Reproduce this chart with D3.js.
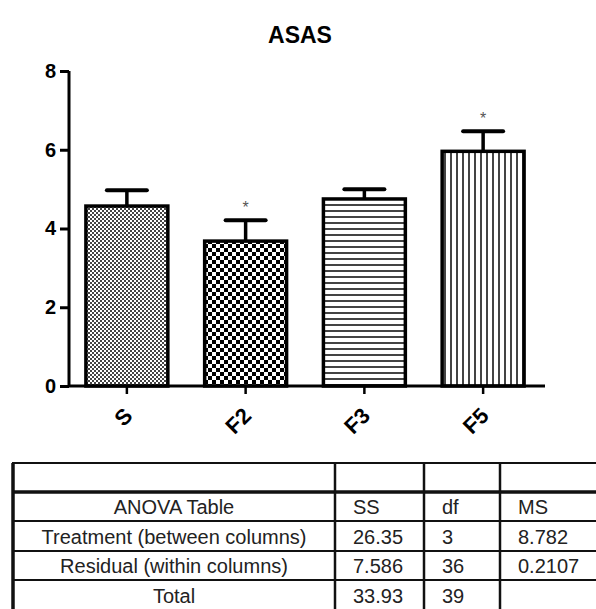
<!DOCTYPE html>
<html><head><meta charset="utf-8">
<script src="https://cdn.jsdelivr.net/npm/d3@7"></script>
<style>html,body{margin:0;padding:0;background:#fff;}svg{display:block;}</style>
</head><body>
<svg id="c" width="596" height="609"></svg>
<script>
const categories = ["S", "F2", "F3", "F5"];
const means = [4.57, 3.68, 4.75, 5.96];
const errors = [0.40, 0.53, 0.25, 0.51];
const significant = [false, true, false, true];
const patternIds = ["pS", "pF2", "pF3", "pF5"];
const yTicks = [0, 2, 4, 6, 8];
const tableHeader = ["ANOVA Table", "SS", "df", "MS"];
const tableRows = [
  ["Treatment (between columns)", "26.35", "3", "8.782"],
  ["Residual (within columns)", "7.586", "36", "0.2107"],
  ["Total", "33.93", "39", ""]
];

const svg = d3.select("#c");
const defs = svg.append("defs");
// S: fine grey checker
let p = defs.append("pattern").attr("id","pS").attr("patternUnits","userSpaceOnUse").attr("width",4).attr("height",4);
p.append("rect").attr("width",4).attr("height",4).attr("fill","#fff");
p.append("rect").attr("width",2).attr("height",2).attr("fill","#444");
p.append("rect").attr("x",2).attr("y",2).attr("width",2).attr("height",2).attr("fill","#444");
// F2: coarse checker
p = defs.append("pattern").attr("id","pF2").attr("patternUnits","userSpaceOnUse").attr("width",8).attr("height",8);
p.append("rect").attr("width",8).attr("height",8).attr("fill","#fff");
p.append("rect").attr("width",4).attr("height",4).attr("fill","#000");
p.append("rect").attr("x",4).attr("y",4).attr("width",4).attr("height",4).attr("fill","#000");
// F3: horizontal lines
p = defs.append("pattern").attr("id","pF3").attr("patternUnits","userSpaceOnUse").attr("width",6).attr("height",6);
p.append("rect").attr("width",6).attr("height",6).attr("fill","#fff");
p.append("rect").attr("y",0).attr("width",6).attr("height",2).attr("fill","#444");
// F5: vertical lines
p = defs.append("pattern").attr("id","pF5").attr("patternUnits","userSpaceOnUse").attr("width",6).attr("height",6);
p.append("rect").attr("width",6).attr("height",6).attr("fill","#fff");
p.append("rect").attr("x",0).attr("width",2).attr("height",6).attr("fill","#444");

const y = d3.scaleLinear().domain([0, 8]).range([386, 71]);
const x = d3.scaleBand().domain(categories).range([67.5, 542.5]).paddingInner(0.31).paddingOuter(0.155);
const axisX0 = 69;
const font = "Liberation Sans, Arial, sans-serif";

// title
svg.append("text").attr("x", 300).attr("y", 43).attr("text-anchor","middle")
  .attr("font-family",font).attr("font-weight","bold").attr("font-size",23).text("ASAS");

// bars
const g = svg.append("g");
g.selectAll("rect.bar").data(categories).join("rect").attr("class","bar")
  .attr("x", d => x(d)).attr("width", x.bandwidth())
  .attr("y", (d,i) => y(means[i])).attr("height", (d,i) => y(0) - y(means[i]))
  .attr("fill", (d,i) => `url(#${patternIds[i]})`).attr("stroke","#000").attr("stroke-width",3.5);

// error bars
const cx = d => x(d) + x.bandwidth()/2;
g.selectAll("line.err").data(categories).join("line")
  .attr("x1", cx).attr("x2", cx)
  .attr("y1", (d,i) => y(means[i])).attr("y2", (d,i) => y(means[i] + errors[i]))
  .attr("stroke","#000").attr("stroke-width",3.5);
g.selectAll("line.cap").data(categories).join("line")
  .attr("x1", d => cx(d) - 20).attr("x2", d => cx(d) + 20)
  .attr("y1", (d,i) => y(means[i] + errors[i])).attr("y2", (d,i) => y(means[i] + errors[i]))
  .attr("stroke","#000").attr("stroke-width",4).attr("stroke-linecap","round");
g.selectAll("text.star").data(categories.filter((d,i)=>significant[i])).join("text")
  .attr("x", cx).attr("y", d => { const i = categories.indexOf(d); return y(means[i] + errors[i]) - 7; })
  .attr("text-anchor","middle").attr("font-family",font)
  .attr("font-size",16).attr("fill","#555").text("*");

// y axis
const yAxis = svg.append("g").attr("transform", `translate(${axisX0},0)`)
  .call(d3.axisLeft(y).tickValues(yTicks).tickSize(9).tickPadding(4).tickFormat(d3.format("d")));
yAxis.select(".domain").attr("stroke","#000").attr("stroke-width",3).attr("d", `M0,${y(8)}V${y(0)}`);
yAxis.selectAll(".tick line").attr("stroke","#000").attr("stroke-width",3);
yAxis.selectAll(".tick text").attr("font-family",font)
  .attr("font-weight","bold").attr("font-size",20).attr("fill","#000");

// x axis
const xAxis = svg.append("g").attr("transform", `translate(0,${y(0)})`)
  .call(d3.axisBottom(x).tickSize(8).tickFormat(""));
xAxis.select(".domain").attr("stroke","#000").attr("stroke-width",3).attr("d", `M${axisX0},0H545`);
xAxis.selectAll(".tick line").attr("stroke","#000").attr("stroke-width",2.5);
svg.append("g").selectAll("text").data(categories).join("text")
  .attr("transform", d => `translate(${cx(d)+7},417) rotate(-45)`)
  .attr("text-anchor","end").attr("font-family",font)
  .attr("font-weight","bold").attr("font-size",22).text(d => d);

// ANOVA table
const colX = [13, 335, 424, 500, 600];
const rowY = [463, 492, 521, 551, 580, 610];
const tg = svg.append("g").attr("font-family",font).attr("font-size",20).attr("fill","#222");
rowY.forEach((ry, i) => {
  tg.append("line").attr("x1", colX[0]-1).attr("x2", colX[4]).attr("y1", ry).attr("y2", ry)
    .attr("stroke","#111").attr("stroke-width", i === 1 ? 3.5 : 2.2);
});
colX.forEach((cxv, i) => {
  tg.append("line").attr("x1", cxv).attr("x2", cxv).attr("y1", rowY[0]).attr("y2", rowY[5])
    .attr("stroke","#111").attr("stroke-width", i === 0 ? 3.5 : 2.5);
});
const allRows = [tableHeader].concat(tableRows);
allRows.forEach((row, r) => {
  const by = (rowY[r+1] + rowY[r+2]) / 2 + 7.5;
  row.forEach((cell, c) => {
    if (!cell) return;
    const t = tg.append("text").attr("y", by).text(cell);
    if (c === 0) t.attr("x", (colX[0] + colX[1]) / 2).attr("text-anchor","middle");
    else t.attr("x", colX[c] + 18);
  });
});
</script>
</body></html>
